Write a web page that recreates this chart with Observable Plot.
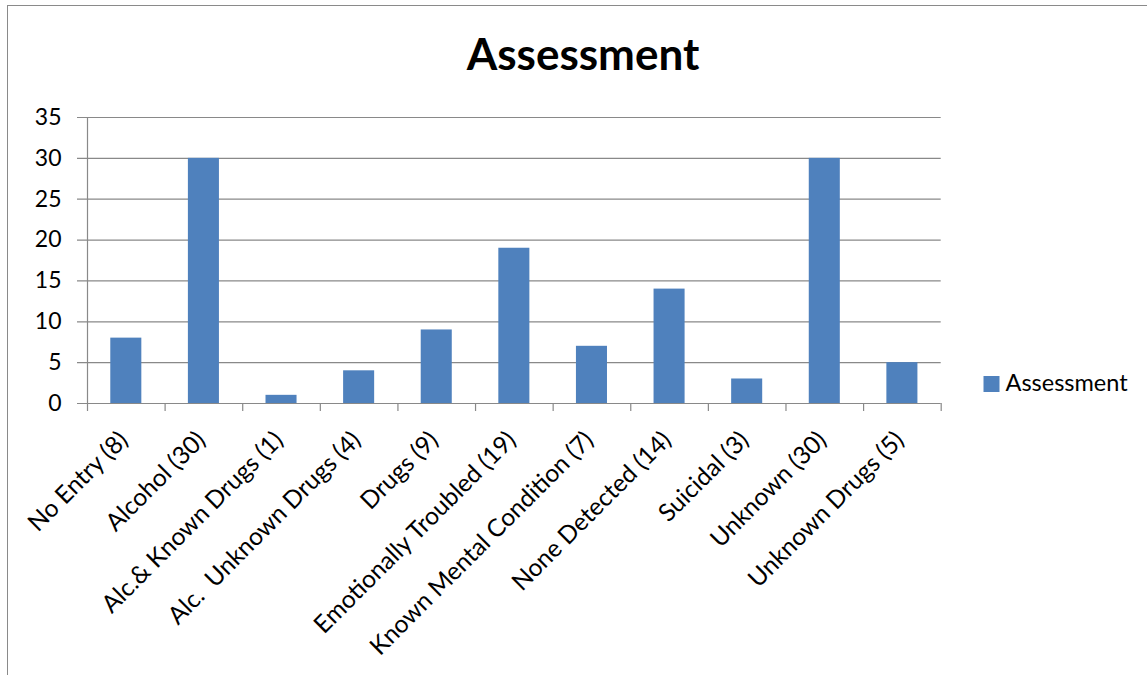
<!DOCTYPE html>
<html>
<head>
<meta charset="utf-8">
<script src="https://cdn.jsdelivr.net/npm/d3@7"></script>
<script src="https://cdn.jsdelivr.net/npm/@observablehq/plot@0.6"></script>
<style>
  html, body { margin: 0; padding: 0; background: #fff; }
  #wrap { position: relative; width: 1147px; height: 675px; overflow: hidden; }
  #border { position: absolute; left: 6.5px; top: 5px; width: 1200px; height: 700px;
            border-left: 1.5px solid #8a8a8a; border-top: 1.5px solid #8a8a8a; pointer-events: none; }
  svg text { white-space: pre; }
</style>
</head>
<body>
<div id="wrap"><div id="chart"></div><div id="border"></div></div>
<script>
const categories = [
  "No Entry (8)", "Alcohol (30)", "Alc.& Known Drugs (1)", "Alc.  Unknown Drugs (4)",
  "Drugs (9)", "Emotionally Troubled (19)", "Known Mental Condition (7)",
  "None Detected (14)", "Suicidal (3)", "Unknown (30)", "Unknown Drugs (5)"
];
const values = [8, 30, 1, 4, 9, 19, 7, 14, 3, 30, 5];
const yTicks = [0, 5, 10, 15, 20, 25, 30, 35];
const seriesName = "Assessment";
const title = "Assessment";

const data = categories.map((c, i) => ({category: c, value: values[i]}));

const W = 1147, H = 675;
const mL = 87, mR = 206.3, mT = 117, mB = 272;
const step = (W - mL - mR) / categories.length;
const grid = "#898989";
const font = "Lato, 'Open Sans', sans-serif";

const chart = Plot.plot({
  width: W, height: H,
  marginLeft: mL, marginRight: mR, marginTop: mT, marginBottom: mB,
  style: {fontFamily: font, background: "#fff", color: "#000", overflow: "visible"},
  x: {type: "band", domain: categories, paddingInner: 0.6, paddingOuter: 0.3, round: false, axis: null},
  y: {domain: [0, 35], axis: null},
  marks: [
    Plot.ruleY(yTicks, {stroke: grid, strokeWidth: 1.2, insetLeft: -10}),
    Plot.ruleX([categories[0]], {dx: -step / 2, y1: 0, y2: 35, stroke: grid, strokeWidth: 1.2}),
    Plot.ruleX(categories, {x: d => d, y1: 0, y2: 0, insetTop: 8, dx: -step / 2, stroke: grid, strokeWidth: 1.2}),
    Plot.ruleX([categories[categories.length - 1]], {x: d => d, y1: 0, y2: 0, insetTop: 8, dx: step / 2, stroke: grid, strokeWidth: 1.2}),
    Plot.barY(data, {x: "category", y: "value", fill: "#4F81BD"}),
    Plot.axisY({ticks: yTicks, tickSize: 0, tickPadding: 26, fontSize: 23, label: null, tickFormat: d3.format("d")}),
    Plot.text(categories, {x: d => d, y: 0, text: d => d, rotate: -45, textAnchor: "end",
      lineAnchor: "bottom", dx: 3, dy: 38, fontSize: 24.5}),
    Plot.text([title], {frameAnchor: "top", dx: 582.5 - (mL + (W - mR)) / 2, dy: -48,
      fontSize: 44, fontWeight: "bold", lineAnchor: "bottom"}),
    Plot.dot([seriesName], {frameAnchor: "right", dx: 991 - (W - mR), dy: 383.5 - (mT + (H - mB)) / 2,
      symbol: "square", r: 8 / Math.sqrt(Math.PI) * 2, fill: "#4F81BD", stroke: null}),
    Plot.text([seriesName], {frameAnchor: "right", dx: 1005 - (W - mR), dy: 383 - (mT + (H - mB)) / 2,
      textAnchor: "start", fontSize: 23.5})
  ]
});
document.getElementById("chart").appendChild(chart);
</script>
</body>
</html>
